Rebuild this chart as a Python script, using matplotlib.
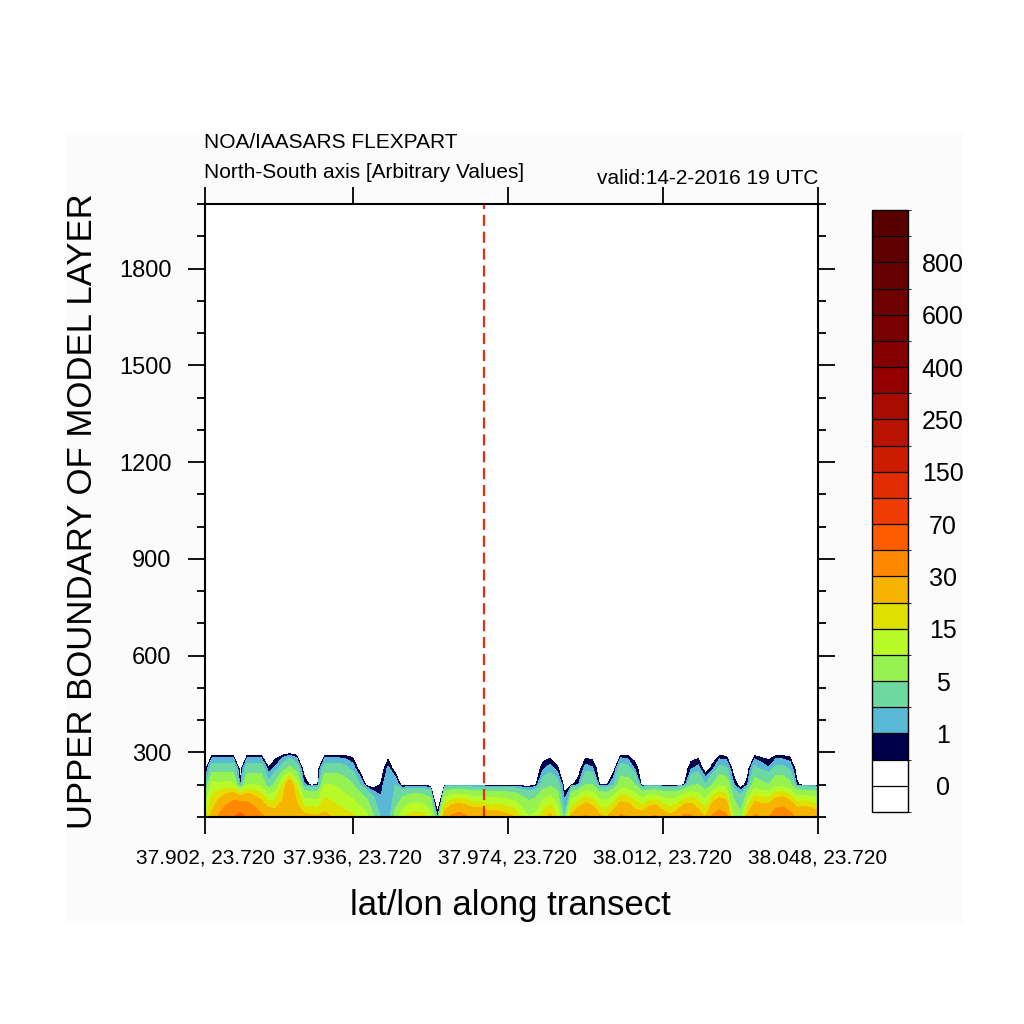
import numpy as np
import matplotlib
matplotlib.use("Agg")
import matplotlib.pyplot as plt
from matplotlib.colors import ListedColormap, BoundaryNorm
from matplotlib.cm import ScalarMappable
from matplotlib.patches import Rectangle

plt.rcParams['font.family'] = ['Liberation Sans', 'DejaVu Sans']

# ---------------- data ----------------
# model-layer heights (rows of the field)
heights = [100, 200, 250, 300]
# concentration at each height along the 88 transect points
v100 = [14, 22, 32, 40, 50, 58, 48, 40, 32, 27,
        25, 25, 27, 25, 22, 22, 21, 22, 20, 18,
        17, 16, 14, 11, 5, 1.8, 0.8, 6, 13, 17,
        18, 17, 12, 0.6, 25, 32, 35, 32, 28, 28,
        25, 25, 24, 22, 20, 14, 10, 12, 18, 22,
        15, 2.2, 22, 28, 32, 28, 22, 20, 25, 32,
        30, 25, 24, 30, 32, 25, 22, 25, 33, 32,
        25, 20, 32, 36, 33, 10, 6, 22, 32, 30,
        30, 38, 40, 35, 28, 30, 28, 25]
v200 = [0.8, 12, 11, 12, 11, 0.3, 10, 10, 9, 2.5,
        6, 15, 26, 14, 1.25, 0.3, 0.4, 10, 10, 9,
        7, 5, 2.1, 0.1, 0, 0.6, 2, 2, 0, 0,
        0, 0, 0, 0, 0, 0, 0, 0, 0, 0,
        0, 0, 0, 0, 0, 0, 0, 0.5, 3, 4,
        3, 0, 0.3, 1.0, 5, 5, 0.4, 0.4, 2, 7,
        7, 5, 0, 0, 0, 0, 0, 0, 0.4, 4,
        5, 2, 5, 9, 8, 1.2, 0, 0.9, 7, 6,
        5, 8, 8, 6, 0.7, 0, 0, 0]
v250 = [0, 3, 3, 3, 3, 0, 3, 3, 3, 0.55,
        1.2, 3, 6, 3, 0, 0, 0, 3, 3, 3,
        2.5, 1.5, 0, 0, 0, 0, 1.2, 0, 0, 0,
        0, 0, 0, 0, 0, 0, 0, 0, 0, 0,
        0, 0, 0, 0, 0, 0, 0, 0, 0.9, 1.4,
        0.6, 0, 0, 0, 1.4, 1.1, 0, 0, 0, 3,
        2.5, 0.9, 0, 0, 0, 0, 0, 0, 0, 0.9,
        1.3, 0, 0.7, 2.5, 2.2, 0, 0, 0, 2.5, 1.6,
        1.1, 2.5, 2.5, 1.8, 0, 0, 0, 0]
v300 = [0] * 88

xtick_pos = [0, 21, 43, 65, 87]
xtick_labels = ['37.902, 23.720', '37.936, 23.720', '37.974, 23.720',
                '38.012, 23.720', '38.048, 23.720']
source_x = 39.6

contour_levels = [0.5, 1, 2, 5, 10, 15, 20, 30, 50, 70, 100, 150, 200, 250,
                  300, 400, 500, 600, 700, 800, 900, 1e6]
fill_colors = ['#00004a', '#58b8d6', '#6dd8a0', '#96f250', '#b8fa28',
               '#e0e000', '#f6b400', '#ff8800', '#ff5c00', '#f03c00',
               '#e02c00', '#cc1c00', '#b81200', '#a80c00', '#940000',
               '#840000', '#780000', '#6e0000', '#660000', '#600000',
               '#580000']
cbar_bounds = [-1, 0, 0.5, 1, 2, 5, 10, 15, 20, 30, 50, 70, 100, 150, 200,
               250, 300, 400, 500, 600, 700, 800, 900, 1000]
cbar_ticks = [0, 1, 5, 15, 30, 70, 150, 250, 400, 600, 800]

# ---------------- figure ----------------
W = 1024.0
fig = plt.figure(figsize=(10.24, 10.24), dpi=100)
fig.patch.set_facecolor('white')
bg = fig.add_axes([65 / W, 1 - 923 / W, (963 - 65) / W, (923 - 133) / W], zorder=-10)
bg.set_facecolor('#fbfbfb')
bg.set_xticks([])
bg.set_yticks([])
for s in bg.spines.values():
    s.set_visible(False)

ax = fig.add_axes([205 / W, 1 - 817 / W, 613 / W, 613 / W], zorder=1)
ax.set_facecolor('white')

x = np.arange(len(v100))
Z = np.array([v100, v200, v250, v300], dtype=float)
ax.contourf(x, heights, Z, levels=contour_levels, colors=fill_colors, antialiased=False)

ax.axvline(source_x, color='#e0301a', lw=1.6, ls=(0, (5.0, 2.6)), zorder=5)

ax.set_xlim(0, 87)
ax.set_ylim(100, 2000)

ax.set_xticks(xtick_pos)
ax.set_xticklabels(xtick_labels)
ax.set_yticks(np.arange(300, 1801, 300))
ax.set_yticks(np.arange(100, 2001, 100), minor=True)
ax.xaxis.set_minor_locator(matplotlib.ticker.NullLocator())

ax.tick_params(axis='x', which='major', direction='out', length=12, width=1.3,
               top=True, bottom=True, labelsize=15, pad=11, labelcolor='black')
ax.tick_params(axis='y', which='major', direction='out', length=12, width=1.3,
               left=True, right=True, labelsize=17, pad=12)
ax.tick_params(axis='y', which='minor', direction='out', length=6, width=1.3,
               left=True, right=True)
for s in ax.spines.values():
    s.set_linewidth(1.5)
    s.set_zorder(10)

fig.text(83 / W, 1 - 511 / W, 'UPPER BOUNDARY OF MODEL LAYER', rotation=90,
         ha='center', va='center', fontsize=25)
fig.text(510 / W, 1 - 905 / W, 'lat/lon along transect', ha='center', va='center',
         fontsize=25)
fig.text(204 / W, 1 - 142 / W, 'NOA/IAASARS FLEXPART', ha='left', va='center',
         fontsize=15)
fig.text(204 / W, 1 - 173 / W, 'North-South axis [Arbitrary Values]', ha='left',
         va='center', fontsize=15)
fig.text(818 / W, 1 - 178 / W, 'valid:14-2-2016 19 UTC', ha='right', va='center',
         fontsize=15)

# ---------------- colorbar ----------------
cax = fig.add_axes([872 / W, 1 - 812 / W, 36 / W, 602 / W], zorder=1)
cmap = ListedColormap(['white', 'white'] + fill_colors)
norm = BoundaryNorm(cbar_bounds, cmap.N)
cb = fig.colorbar(ScalarMappable(norm=norm, cmap=cmap), cax=cax,
                  boundaries=cbar_bounds, spacing='uniform', ticks=cbar_ticks,
                  drawedges=True)
cb.outline.set_linewidth(1.0)
cb.dividers.set_linewidth(0.9)
cb.ax.set_yticklabels([str(t) for t in cbar_ticks])
cb.ax.tick_params(length=0, labelsize=18, pad=25)
for lab in cb.ax.get_yticklabels():
    lab.set_horizontalalignment('center')

fig.savefig('out.png', dpi=100, facecolor='white')
